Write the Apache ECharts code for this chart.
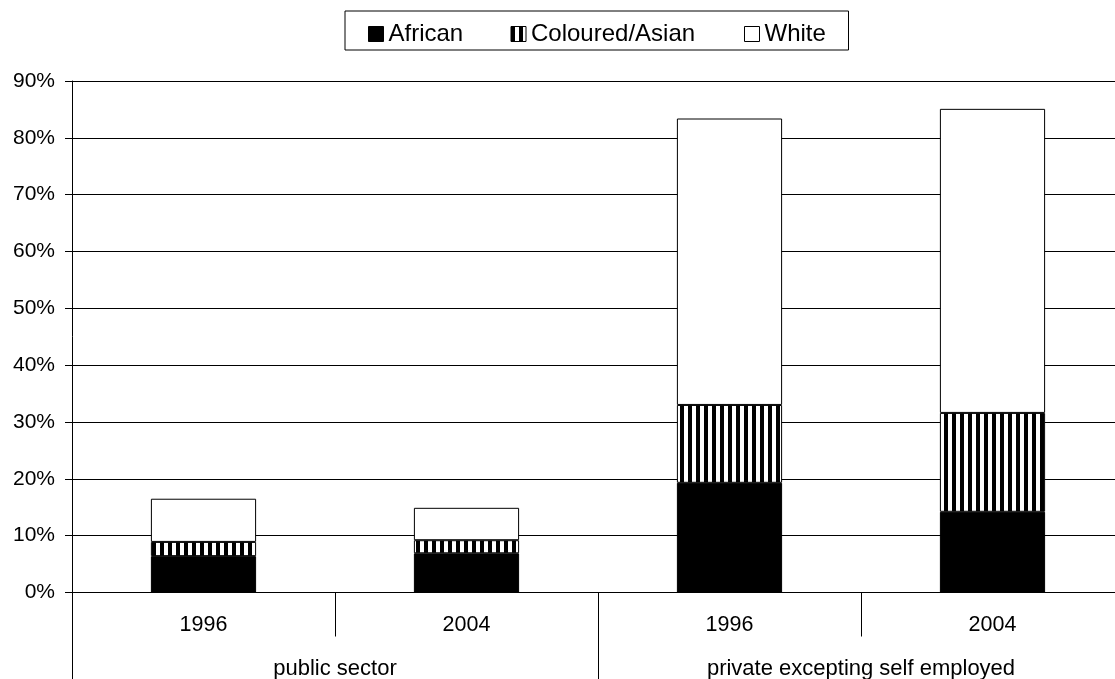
<!DOCTYPE html>
<html>
<head>
<meta charset="utf-8">
<script src="https://cdn.jsdelivr.net/npm/echarts@6/dist/echarts.min.js"></script>
<style>
html,body{margin:0;padding:0;background:#fff;}
#chart{width:1115px;height:679px;}
</style>
</head>
<body>
<div id="chart"></div>
<script>
// ---- data ----
const categories = ['1996', '2004', '1996', '2004'];
const sectors = ['public sector', 'private excepting self employed'];
const seriesNames = ['African', 'Coloured/Asian', 'White'];
const african = [6.4, 6.9, 19.3, 14.2];
const colouredAsian = [2.5, 2.3, 13.7, 17.4];
const white = [7.6, 5.7, 50.4, 53.5];
const yMin = 0, yMax = 90, yStep = 10;

// ---- styling ----
const FONT = "'Liberation Sans', Arial, sans-serif";
function stripePattern() {
  const c = document.createElement('canvas');
  c.width = 8; c.height = 8;
  const g = c.getContext('2d');
  g.fillStyle = '#fff'; g.fillRect(0, 0, 8, 8);
  g.fillStyle = '#000'; g.fillRect(0, 0, 4, 8);
  return { image: c, repeat: 'repeat' };
}
const legendKeys = { 'African': 'a', 'Coloured/Asian': 'b', 'White': 'c' };

const chart = echarts.init(document.getElementById('chart'), null, { renderer: 'canvas' });
chart.setOption({
  animation: false,
  backgroundColor: '#fff',
  textStyle: { fontFamily: FONT, color: '#000' },
  legend: {
    left: 345, top: 11,
    padding: [11, 20, 4, 23],
    itemGap: 0,
    itemWidth: 15, itemHeight: 15,
    icon: 'rect',
    borderColor: '#000', borderWidth: 1,
    selectedMode: false,
    itemStyle: { borderColor: '#000', borderWidth: 1 },
    data: seriesNames,
    formatter: name => '{' + legendKeys[name] + '|' + name + '}',
    textStyle: {
      fontFamily: FONT, fontSize: 24, color: '#000',
      rich: {
        a: { width: 122, fontSize: 24, fontFamily: FONT, lineHeight: 22 },
        b: { width: 213, fontSize: 24, fontFamily: FONT, lineHeight: 22 },
        c: { width: 64, fontSize: 24, fontFamily: FONT, lineHeight: 22 }
      }
    }
  },
  grid: { left: 72, top: 81, width: 1052, bottom: 86.5, containLabel: false, outerBoundsMode: 'none' },
  xAxis: [
    {
      type: 'category', data: categories, position: 'bottom',
      axisLine: { show: true, lineStyle: { color: '#000', width: 1 } },
      axisTick: { show: true, interval: 0, length: 44, alignWithLabel: false, lineStyle: { color: '#000' } },
      axisLabel: { interval: 0, margin: 22, fontSize: 21.5, color: '#000', fontFamily: FONT },
      splitLine: { show: false }
    },
    {
      type: 'category', data: sectors, position: 'bottom',
      axisLine: { show: false },
      axisTick: { show: true, interval: 0, length: 95, lineStyle: { color: '#000' } },
      axisLabel: { interval: 0, margin: 65, fontSize: 22, color: '#000', fontFamily: FONT },
      splitLine: { show: false }
    }
  ],
  yAxis: {
    type: 'value', min: yMin, max: yMax, interval: yStep,
    axisLine: { show: true, lineStyle: { color: '#000', width: 1 } },
    axisTick: { show: true, length: 7, inside: false, lineStyle: { color: '#000' } },
    axisLabel: { formatter: '{value}%', margin: 17, fontSize: 21, color: '#000', fontFamily: FONT },
    splitLine: { show: true, lineStyle: { color: '#000', width: 1 } }
  },
  series: [
    {
      name: 'African', type: 'bar', stack: 'total', barWidth: '40%', data: african,
      itemStyle: { color: '#000', borderColor: '#000', borderWidth: 1 }
    },
    {
      name: 'Coloured/Asian', type: 'bar', stack: 'total', barWidth: '40%', data: colouredAsian,
      itemStyle: { color: stripePattern(), borderColor: '#000', borderWidth: 1 }
    },
    {
      name: 'White', type: 'bar', stack: 'total', barWidth: '40%', data: white,
      itemStyle: { color: '#fff', borderColor: '#000', borderWidth: 1 }
    }
  ]
});
</script>
</body>
</html>
